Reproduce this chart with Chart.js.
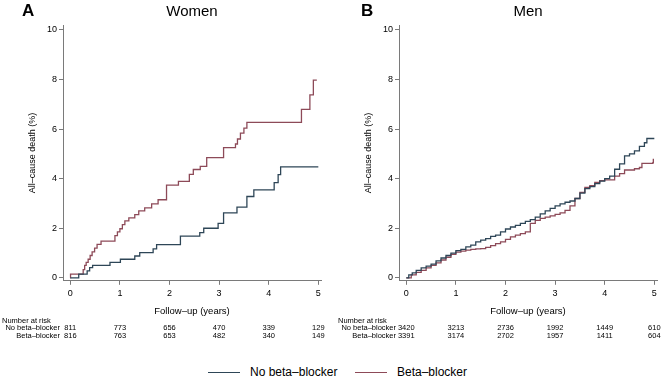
<!DOCTYPE html>
<html>
<head>
<meta charset="utf-8">
<script src="https://cdn.jsdelivr.net/npm/chart.js@4"></script>
<style>
  html, body { margin: 0; padding: 0; background: #fff; }
  #wrap { position: relative; width: 672px; height: 383px; overflow: hidden; font-family: "Liberation Sans", Arial, sans-serif; }
  canvas { position: absolute; top: 0; }
  .letter { position: absolute; top: 1px; font-weight: bold; font-size: 17px; color: #000; }
  .legline { position: absolute; height: 0; border-top: 1.3px solid; width: 32px; }
  .legtxt { position: absolute; font-size: 12px; color: #000; line-height: 14px; }
</style>
</head>
<body>
<div id="wrap">
  <canvas id="cA" width="336" height="345" style="left:0"></canvas>
  <canvas id="cB" width="336" height="345" style="left:336px"></canvas>
  <div class="letter" style="left:22px">A</div>
  <div class="letter" style="left:361px">B</div>
  <div class="legline" style="left:208px; top:372px; border-color:#2e4657"></div>
  <div class="legtxt" style="left:250px; top:365px">No beta–blocker</div>
  <div class="legline" style="left:355px; top:372px; border-color:#8d4a58"></div>
  <div class="legtxt" style="left:397px; top:365px">Beta–blocker</div>
</div>
<script>
// ---- data ----
const years = [0, 1, 2, 3, 4, 5];
const yTicks = [0, 2, 4, 6, 8, 10];
const seriesNames = ["No beta–blocker", "Beta–blocker"];

// Women, no beta-blocker (time in years, cumulative death %)
const womenNoT = [0, 0.17, 0.34, 0.39, 0.45, 0.80, 1.01, 1.30, 1.40, 1.67, 1.74, 2.22, 2.61, 2.69, 2.98, 3.09, 3.36, 3.56, 3.70, 4.11, 4.19, 4.24, 5.0];
const womenNoV = [0, 0.15, 0.28, 0.41, 0.50, 0.62, 0.75, 0.88, 1.02, 1.17, 1.34, 1.68, 1.82, 2.0, 2.2, 2.62, 2.85, 3.28, 3.55, 3.84, 4.16, 4.48, 4.48];
// Women, beta-blocker
const womenBetaT = [0, 0.005, 0.26, 0.29, 0.32, 0.36, 0.40, 0.44, 0.49, 0.54, 0.62, 0.90, 0.95, 1.00, 1.05, 1.10, 1.18, 1.30, 1.38, 1.50, 1.64, 1.77, 1.94, 2.18, 2.40, 2.48, 2.62, 2.75, 3.09, 3.33, 3.37, 3.43, 3.50, 3.56, 4.66, 4.83, 4.90, 4.97];
const womenBetaV = [0, 0.15, 0.33, 0.50, 0.62, 0.75, 0.90, 1.05, 1.20, 1.35, 1.48, 1.70, 1.85, 1.98, 2.15, 2.30, 2.42, 2.55, 2.70, 2.82, 2.98, 3.15, 3.74, 3.89, 4.17, 4.37, 4.50, 4.85, 5.25, 5.40, 5.60, 5.84, 6.04, 6.27, 6.80, 7.38, 7.98, 7.98];
// Men, no beta-blocker
const menNoT = [0, 0.05, 0.12, 0.2, 0.3, 0.4, 0.5, 0.6, 0.7, 0.8, 0.9, 1.0, 1.1, 1.2, 1.3, 1.4, 1.5, 1.6, 1.7, 1.8, 1.9, 2.0, 2.1, 2.2, 2.3, 2.4, 2.5, 2.6, 2.7, 2.8, 2.9, 3.0, 3.1, 3.2, 3.3, 3.4, 3.5, 3.6, 3.7, 3.8, 3.9, 4.0, 4.1, 4.2, 4.3, 4.4, 4.5, 4.6, 4.7, 4.8, 4.85, 5.0];
const menNoV = [0, 0.12, 0.2, 0.3, 0.4, 0.47, 0.55, 0.68, 0.8, 0.9, 1.0, 1.1, 1.15, 1.25, 1.32, 1.45, 1.52, 1.58, 1.67, 1.72, 1.85, 1.97, 2.05, 2.12, 2.2, 2.28, 2.35, 2.45, 2.58, 2.7, 2.8, 2.9, 2.98, 3.05, 3.1, 3.2, 3.42, 3.6, 3.68, 3.8, 3.9, 4.0, 4.1, 4.38, 4.6, 4.92, 5.0, 5.12, 5.3, 5.45, 5.62, 5.62];
// Men, beta-blocker
const menBetaT = [0, 0.1, 0.2, 0.3, 0.4, 0.5, 0.6, 0.7, 0.8, 0.9, 1.0, 1.1, 1.2, 1.3, 1.4, 1.5, 1.6, 1.7, 1.8, 1.9, 2.0, 2.1, 2.2, 2.3, 2.4, 2.5, 2.6, 2.7, 2.8, 2.9, 3.0, 3.1, 3.2, 3.3, 3.4, 3.5, 3.6, 3.7, 3.8, 3.9, 4.0, 4.2, 4.3, 4.4, 4.6, 4.7, 4.75, 4.97, 4.98];
const menBetaV = [0, 0.12, 0.22, 0.3, 0.4, 0.5, 0.6, 0.72, 0.83, 0.95, 1.04, 1.08, 1.12, 1.15, 1.17, 1.18, 1.23, 1.3, 1.38, 1.45, 1.55, 1.65, 1.72, 1.78, 1.85, 2.2, 2.32, 2.4, 2.45, 2.5, 2.56, 2.62, 2.72, 2.9, 3.2, 3.45, 3.65, 3.72, 3.85, 3.92, 3.95, 4.1, 4.2, 4.35, 4.4, 4.45, 4.62, 4.65, 4.8];

// Number at risk
const riskWomenNo = [811, 773, 656, 470, 339, 129];
const riskWomenBeta = [816, 763, 653, 482, 340, 149];
const riskMenNo = [3420, 3213, 2736, 1992, 1449, 610];
const riskMenBeta = [3391, 3174, 2702, 1957, 1411, 604];

// ---- chart ----
const FONT = '"Liberation Sans", Arial, sans-serif';
const COL_NO = '#2e4657';
const COL_BETA = '#8d4a58';
const AXIS = '#7a7a7a';

function pts(t, v) { return t.map((x, i) => ({ x: x, y: v[i] })); }

const riskPlugin = {
  id: 'riskTable',
  afterDraw(chart, args, opts) {
    const ctx = chart.ctx;
    const xs = chart.scales.x;
    ctx.save();
    ctx.fillStyle = '#000';
    ctx.font = '7.5px ' + FONT;
    ctx.textBaseline = 'middle';
    ctx.textAlign = 'left';
    ctx.fillText('Number at risk', 2, 321);
    ctx.textAlign = 'right';
    ctx.fillText(seriesNames[0], 60, 328);
    ctx.fillText(seriesNames[1], 60, 335.5);
    ctx.textAlign = 'center';
    years.forEach((yr, i) => {
      const px = xs.getPixelForValue(yr);
      ctx.fillText(String(opts.no[i]), px, 328);
      ctx.fillText(String(opts.beta[i]), px, 335.5);
    });
    ctx.restore();
  }
};

function makeChart(id, title, noT, noV, betaT, betaV, riskNo, riskBeta) {
  return new Chart(document.getElementById(id), {
    type: 'line',
    data: {
      datasets: [
        { label: seriesNames[0], data: pts(noT, noV), borderColor: COL_NO, borderWidth: 1.3, stepped: true, pointRadius: 0, fill: false },
        { label: seriesNames[1], data: pts(betaT, betaV), borderColor: COL_BETA, borderWidth: 1.3, stepped: true, pointRadius: 0, fill: false }
      ]
    },
    options: {
      responsive: false,
      animation: false,
      devicePixelRatio: 1,
      layout: { padding: { top: 3, left: 0, right: 15, bottom: 28 } },
      plugins: {
        legend: { display: false },
        tooltip: { enabled: false },
        title: { display: true, text: title, fullSize: false, color: '#000', font: { family: FONT, size: 15, weight: 'normal' }, padding: { top: 0, bottom: 4 } },
        riskTable: { no: riskNo, beta: riskBeta }
      },
      scales: {
        x: {
          type: 'linear', min: -0.147, max: 5.054,
          afterBuildTicks: s => { s.ticks = years.map(v => ({ value: v })); },
          ticks: { color: '#000', font: { family: FONT, size: 9 }, padding: 3, maxRotation: 0, autoSkip: false },
          grid: { display: true, drawOnChartArea: false, drawTicks: true, tickLength: 4, color: AXIS, tickColor: AXIS },
          border: { display: true, color: AXIS, width: 1 },
          title: { display: true, text: 'Follow–up (years)', color: '#000', font: { family: FONT, size: 9.5 }, padding: { top: 4, bottom: 0 } }
        },
        y: {
          type: 'linear', min: -0.12, max: 10.2,
          afterBuildTicks: s => { s.ticks = yTicks.map(v => ({ value: v })); },
          afterFit: s => { s.width = 63; },
          ticks: { color: '#000', font: { family: FONT, size: 9 }, padding: 2 },
          grid: { display: true, drawOnChartArea: false, drawTicks: true, tickLength: 4, color: AXIS, tickColor: AXIS },
          border: { display: true, color: AXIS, width: 1 },
          title: { display: true, text: 'All–cause death (%)', color: '#000', font: { family: FONT, size: 9 }, padding: { top: 27.6, bottom: 0 } }
        }
      }
    },
    plugins: [riskPlugin]
  });
}

makeChart('cA', 'Women', womenNoT, womenNoV, womenBetaT, womenBetaV, riskWomenNo, riskWomenBeta);
makeChart('cB', 'Men', menNoT, menNoV, menBetaT, menBetaV, riskMenNo, riskMenBeta);
</script>
</body>
</html>
